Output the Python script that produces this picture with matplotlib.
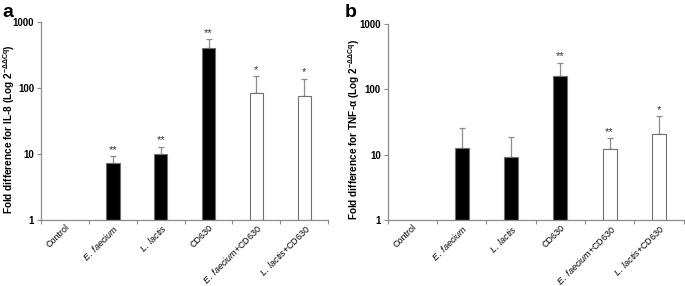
import matplotlib
matplotlib.use("Agg")
import matplotlib.pyplot as plt

plt.rcParams["font.family"] = ["Liberation Sans", "DejaVu Sans"]
plt.rcParams["mathtext.fontset"] = "custom"
plt.rcParams["mathtext.rm"] = "Liberation Sans"
plt.rcParams["mathtext.it"] = "Liberation Sans:italic"
plt.rcParams["mathtext.bf"] = "Liberation Sans:bold"

categories = ["Control", r"$\it{E.\ faecium}$", r"$\it{L.\ lactis}$", "CD630",
              r"$\it{E.\ faecium}$+CD630", r"$\it{L.\ lactis}$+CD630"]
filled = [True, True, True, True, False, False]

il8_mean = [1, 7.4, 10.0, 400, 85, 76]
il8_err = [0, 1.9, 2.9, 145, 65, 61]
il8_stars = ["", "**", "**", "**", "*", "*"]

tnf_mean = [1, 12.6, 9.3, 162, 12.1, 21]
tnf_err = [0, 12.7, 9.7, 96, 5.7, 17.6]
tnf_stars = ["", "", "", "**", "**", "*"]

GREY = "#8c8c8c"


def draw_panel(ax, means, errs, stars, ylabel):
    x = list(range(len(categories)))
    # control sits at 1 (zero height on the log axis) so it gets no bar
    keep = [i for i, m in enumerate(means) if m > 1]
    ax.bar([x[i] for i in keep], [means[i] - 1 for i in keep], bottom=1, width=0.28,
           color=["black" if filled[i] else "white" for i in keep],
           edgecolor="#707070", linewidth=0.8, zorder=2)
    ax.errorbar([x[i] for i in keep], [means[i] for i in keep],
                yerr=[[0] * len(keep), [errs[i] for i in keep]], fmt="none", ecolor=GREY,
                elinewidth=0.9, capsize=2, capthick=0.9, zorder=1)
    for xi, m, e, s in zip(x, means, errs, stars):
        if s:
            ax.text(xi, (m + e) * 1.05, s, ha="center", va="bottom", fontsize=8,
                    color="#333333")
    ax.set_yscale("log")
    ax.set_ylim(1, 1000)
    ax.set_xlim(-0.5, len(categories) - 0.5)
    ax.set_yticks([1, 10, 100, 1000])
    ax.set_yticklabels(["1", "10", "100", "1000"], fontsize=7, fontweight="bold")
    ax.yaxis.set_minor_locator(matplotlib.ticker.NullLocator())
    ax.set_xticks([i - 0.5 for i in range(len(categories) + 1)])
    ax.set_xticklabels([])
    ax.set_xticks(x, minor=True)
    ax.set_xticklabels(categories, minor=True, rotation=45, ha="right",
                       rotation_mode="anchor", fontsize=6.5)
    ax.tick_params(axis="x", which="minor", length=0, pad=2)
    ax.tick_params(axis="x", which="major", length=3, color=GREY, direction="out")
    ax.tick_params(axis="y", length=3, color=GREY, pad=2)
    for side in ["top", "right"]:
        ax.spines[side].set_visible(False)
    for side in ["left", "bottom"]:
        ax.spines[side].set_color(GREY)
        ax.spines[side].set_linewidth(0.9)
    ax.set_ylabel(ylabel, fontsize=7.2, fontweight="bold")


fig = plt.figure(figsize=(6.85, 2.86), dpi=100)
ax1 = fig.add_axes([0.060, 0.231, 0.419, 0.692])
ax2 = fig.add_axes([0.566, 0.230, 0.432, 0.686])

draw_panel(ax1, il8_mean, il8_err, il8_stars,
           r"Fold difference for IL-8 (Log 2$^{\mathbf{-\Delta\Delta Cq}}$)")
draw_panel(ax2, tnf_mean, tnf_err, tnf_stars,
           r"Fold difference for TNF-α (Log 2$^{\mathbf{-\Delta\Delta Cq}}$)")
# y labels sit close to the left edge of each panel, as in the reference
ax1.yaxis.set_label_coords(-0.083, 0.46)
ax2.yaxis.set_label_coords(-0.086, 0.46)

fig.text(0.003, 0.955, "a", fontsize=14, fontweight="bold", va="center")
fig.text(0.503, 0.955, "b", fontsize=14, fontweight="bold", va="center")

fig.savefig("out.png", dpi=100)
